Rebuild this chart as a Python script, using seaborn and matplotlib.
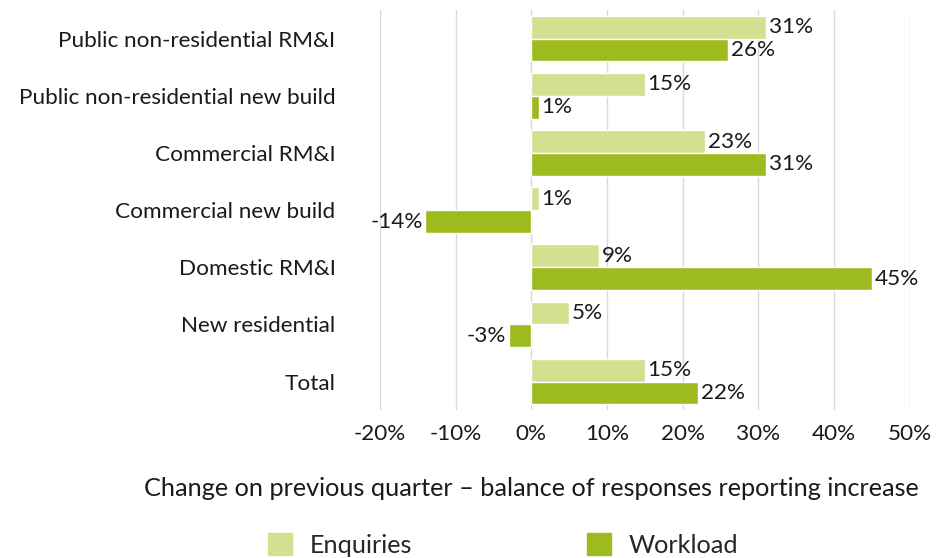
import numpy as np
import pandas as pd
import matplotlib.pyplot as plt
import seaborn as sns

categories = [
    "Public non-residential RM&I",
    "Public non-residential new build",
    "Commercial RM&I",
    "Commercial new build",
    "Domestic RM&I",
    "New residential",
    "Total",
]
enquiries = [31, 15, 23, 1, 9, 5, 15]
workload = [26, 1, 31, -14, 45, -3, 22]
series = ["Enquiries", "Workload"]
colors = {"Enquiries": "#d2e090", "Workload": "#9dbb1e"}

df = pd.DataFrame({
    "category": categories * 2,
    "series": ["Enquiries"] * len(categories) + ["Workload"] * len(categories),
    "value": enquiries + workload,
})

sns.set_style("white")
plt.rcParams["font.family"] = ["Lato", "DejaVu Sans"]
FS = 16.2
FS_BIG = 18.2
TXT = "#1a1a1a"

fig = plt.figure(figsize=(9.37, 5.58), dpi=100)
ax = fig.add_axes([0.4055, 0.265, 0.5655, 0.717])

sns.barplot(data=df, y="category", x="value", hue="series", order=categories,
            hue_order=series, palette=colors, orient="h", width=0.8,
            saturation=1, ax=ax, legend=False)

# percentage labels at bar ends
for cont in ax.containers:
    ax.bar_label(cont, labels=[f"{v:.0f}%" for v in cont.datavalues],
                 padding=2, fontsize=FS, color=TXT)

ax.set_xlim(-20, 50)
ax.set_xticks(np.arange(-20, 51, 10))
ax.set_xticklabels([f"{t}%" for t in range(-20, 51, 10)], fontsize=FS, color=TXT)
ax.tick_params(axis="y", labelsize=FS, length=0, pad=32, labelcolor=TXT)
ax.tick_params(axis="x", length=0, pad=10)
ax.xaxis.grid(True, color="#d9d9d9", linewidth=1)
ax.set_axisbelow(True)
for s in ax.spines.values():
    s.set_visible(False)
ax.set_ylabel("")
ax.set_xlabel("")

fig.text(0.567, 0.125,
         "Change on previous quarter \u2013 balance of responses reporting increase",
         ha="center", va="center", fontsize=FS_BIG, color=TXT)

handles = [plt.Rectangle((0, 0), 1, 1, color=colors[s]) for s in series]
fig.legend(handles, series, loc="center", bbox_to_anchor=(0.537, 0.023), ncol=2,
           frameon=False, fontsize=FS_BIG, handlelength=0.95, handleheight=0.95,
           columnspacing=6.9, handletextpad=0.7, borderpad=0)

fig.savefig("out.png", dpi=100)
